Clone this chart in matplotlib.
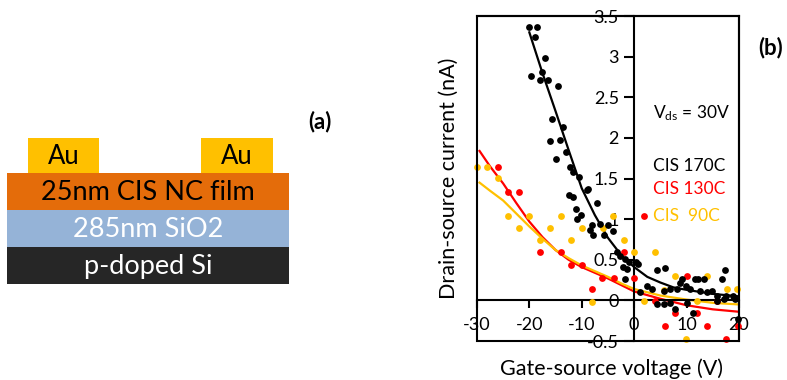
# Device schematic (a) and transfer curves (b)

import numpy as np
import matplotlib.pyplot as plt
from matplotlib.patches import Rectangle

plt.rcParams['font.family'] = ['Lato', 'DejaVu Sans']
plt.rcParams['axes.unicode_minus'] = False
plt.rcParams['mathtext.default'] = 'regular'

# (a) layer stack
layer_names = ['25nm CIS NC film', '285nm SiO2', 'p-doped Si']
layer_colors = ['#E46C0A', '#95B3D7', '#262626']
layer_text_colors = ['black', 'white', 'white']
contact_name = 'Au'
contact_color = '#FFC000'

x_170 = [-20.0, -18.6, -19.0, -17.0, -17.5, -19.6, -17.9, -16.5, -14.6, -15.6, -13.6, -14.1, -16.1,
         -13.1, -15.0, -12.2, -11.6, -10.6, -9.0, -8.8, -12.5, -11.6, -7.1, -11.1, -10.1, -10.9,
         -8.0, -6.6, -4.9, -8.5, -7.9, -5.7, -4.0, -3.3, -2.7, -1.7, -2.2, -1.4, -0.9, 0.4, 0.8,
         -1.7, 4.3, 5.9, 2.4, 3.4, 1.1, 5.6, 6.9, 8.2, 8.8, 9.2, 9.9, 10.7, 11.6, 12.2, 13.4, 12.6,
         13.9, 14.8, 16.7, 17.4, 15.8, 17.6, 18.9, 19.3, 19.9, 4.3, 5.6, 6.9, 7.8, 10.0, 11.3, 15.8, 17.1]
y_170 = [3.37, 3.37, 3.24, 2.99, 2.81, 2.76, 2.71, 2.71, 2.64, 2.23, 2.14, 1.98, 1.96,
         1.83, 1.74, 1.64, 1.58, 1.52, 1.36, 1.37, 1.30, 1.27, 1.20, 1.13, 1.05, 1.00,
         0.93, 0.94, 0.93, 0.87, 0.80, 0.80, 0.85, 0.60, 0.55, 0.51, 0.41, 0.39, 0.47, 0.47, 0.45,
         0.26, 0.37, 0.40, 0.18, 0.14, 0.10, 0.12, 0.14, 0.14, 0.22, 0.26, 0.18, 0.14, 0.26, 0.26, 0.26, 0.12,
         0.10, 0.12, 0.26, 0.37, 0.06, 0.06, 0.06, 0.02, -0.23, -0.05, -0.05, -0.03, -0.11, -0.03, -0.15, -0.01, 0.02]

x_130 = [-26, -24, -22, -18, -14, -12.1, -10, -8.1, -6.2, -3.9, -1.9, 0, 1.8, 4, 5.9, 7.8, 10,
         11.9, 13.9, 15.8, 17.6, 19.9]
y_130 = [1.64, 1.34, 1.34, 0.60, 0.60, 0.44, 0.44, 0.14, 0.28, 0.28, 0.60, 0.28, 1.04, -0.01, -0.32,
         -0.15, 0.30, -0.15, -0.32, -0.01, -0.47, -0.32]

x_90 = [-30, -28, -26, -24, -22, -20, -18, -16, -14, -12, -10, -8, -6, -4, -2, 0, 1.9, 3.9, 5.7,
        7.8, 9.9, 11.9, 13.9, 17.7, 19.7]
y_90 = [1.64, 1.64, 1.51, 1.04, 0.89, 1.04, 0.74, 0.89, 1.04, 0.74, 0.89, -0.02, 0.89, 1.04, 0.74,
        0.60, -0.01, 0.60, 0.13, 0.30, -0.47, -0.01, 0.30, 0.14, 0.14]

# fitted trend lines
fit_x_170 = [-20, -17.5, -15, -12.5, -10, -7.5, -5, -2.5, 0, 2.5, 5, 7.5, 10, 15, 20]
fit_y_170 = [3.30, 2.80, 2.33, 1.85, 1.38, 1.05, 0.77, 0.56, 0.41, 0.29, 0.22, 0.16, 0.13, 0.08, 0.05]
fit_x = [-29.5, -27.5, -25, -22.5, -20, -17.5, -15, -12.5, -10, -7.5, -5, -2.5, 0, 5, 10, 15, 20]
fit_y_130 = [1.84, 1.65, 1.44, 1.20, 0.97, 0.78, 0.62, 0.50, 0.41, 0.34, 0.27, 0.19, 0.11, 0.02,
             -0.06, -0.11, -0.14]
fit_y_90 = [1.45, 1.35, 1.23, 1.07, 0.91, 0.76, 0.62, 0.52, 0.43, 0.36, 0.29, 0.21, 0.14, 0.06,
            0.01, -0.03, -0.05]

x_ticks = [-30, -20, -10, 0, 10, 20]
x_ticklabels = ['-30', '-20', '-10', '0', '10', '20']
y_ticks = [-0.5, 0, 0.5, 1, 1.5, 2, 2.5, 3, 3.5]
y_ticklabels = ['-0.5', '0', '0.5', '1', '1.5', '2', '2.5', '3', '3.5']

series_labels = ['CIS 170C', 'CIS 130C', 'CIS  90C']
series_colors = ['black', '#FF0000', '#FFC000']

fig = plt.figure(figsize=(7.87, 3.80), dpi=100)

# ---- (a) schematic in pixel coordinates
ax_a = fig.add_axes([0, 0, 1, 1])
ax_a.set_xlim(0, 787)
ax_a.set_ylim(380, 0)
ax_a.axis('off')

layer_top = 173.3
layer_h = 36.9
for i, name in enumerate(layer_names):
    top = layer_top + i * layer_h
    ax_a.add_patch(Rectangle((7.3, top), 282, layer_h, color=layer_colors[i], lw=0))
    ax_a.text(148, top + layer_h / 2 + 1, name, ha='center', va='center',
              fontsize=19.5, color=layer_text_colors[i])
for left in [27.7, 201]:
    ax_a.add_patch(Rectangle((left, 138.3), 71.5, 35, color=contact_color, lw=0))
    ax_a.text(left + 35.7, 157, contact_name, ha='center', va='center', fontsize=18.5, color='black')

fig.text(320 / 787, 1 - 122 / 380, '(a)', ha='center', va='center', fontsize=16, fontweight='bold')

# ---- (b) transfer curves
ax = fig.add_axes([0.606, 0.1026, 0.333, 0.855])
ax.set_xlim(-30, 20)
ax.set_ylim(-0.5, 3.5)

ax.scatter(x_90, y_90, s=24, color=series_colors[2], linewidths=0, zorder=3, clip_on=False)
ax.scatter(x_130, y_130, s=24, color=series_colors[1], linewidths=0, zorder=3, clip_on=False)
ax.scatter(x_170, y_170, s=24, color=series_colors[0], linewidths=0, zorder=3, clip_on=False)
ax.plot(fit_x, fit_y_130, color=series_colors[1], lw=1.6, zorder=2)
ax.plot(fit_x, fit_y_90, color=series_colors[2], lw=1.6, zorder=2)
ax.plot(fit_x_170, fit_y_170, color=series_colors[0], lw=1.6, zorder=2)

# axes cross at zero, plus a box frame
ax.spines['left'].set_position(('data', 0))
ax.spines['bottom'].set_position(('data', 0))
for sp in ax.spines.values():
    sp.set_linewidth(1.5)
ax.add_patch(Rectangle((0, 0), 1, 1, transform=ax.transAxes, fill=False, lw=1.5,
                       edgecolor='black', clip_on=False, zorder=4))

ax.set_xticks(x_ticks)
ax.set_xticklabels(x_ticklabels)
ax.set_yticks(y_ticks)
ax.set_yticklabels(y_ticklabels)
ax.tick_params(axis='x', direction='out', length=6, width=1.5, pad=6, labelsize=13)
ax.tick_params(axis='y', direction='out', length=7, width=1.5, pad=4, labelsize=13)

ax.set_xlabel('Gate-source voltage (V)', fontsize=15.5)
ax.xaxis.set_label_coords(0.513, -0.055)
ax.set_ylabel('Drain-source current (nA)', fontsize=15.5)
ax.yaxis.set_label_coords(-0.07, 0.5)

ax.text(3.6, 2.30, 'V$_{ds}$ = 30V', fontsize=12.5, va='center', ha='left')
for label, color, ypos in zip(series_labels, series_colors, [1.65, 1.37, 1.04]):
    ax.text(3.6, ypos, label, fontsize=12.5, color=color, va='center', ha='left')

fig.text(771 / 787, 1 - 47.5 / 380, '(b)', ha='center', va='center', fontsize=16, fontweight='bold')

plt.savefig('out.png', dpi=100)
